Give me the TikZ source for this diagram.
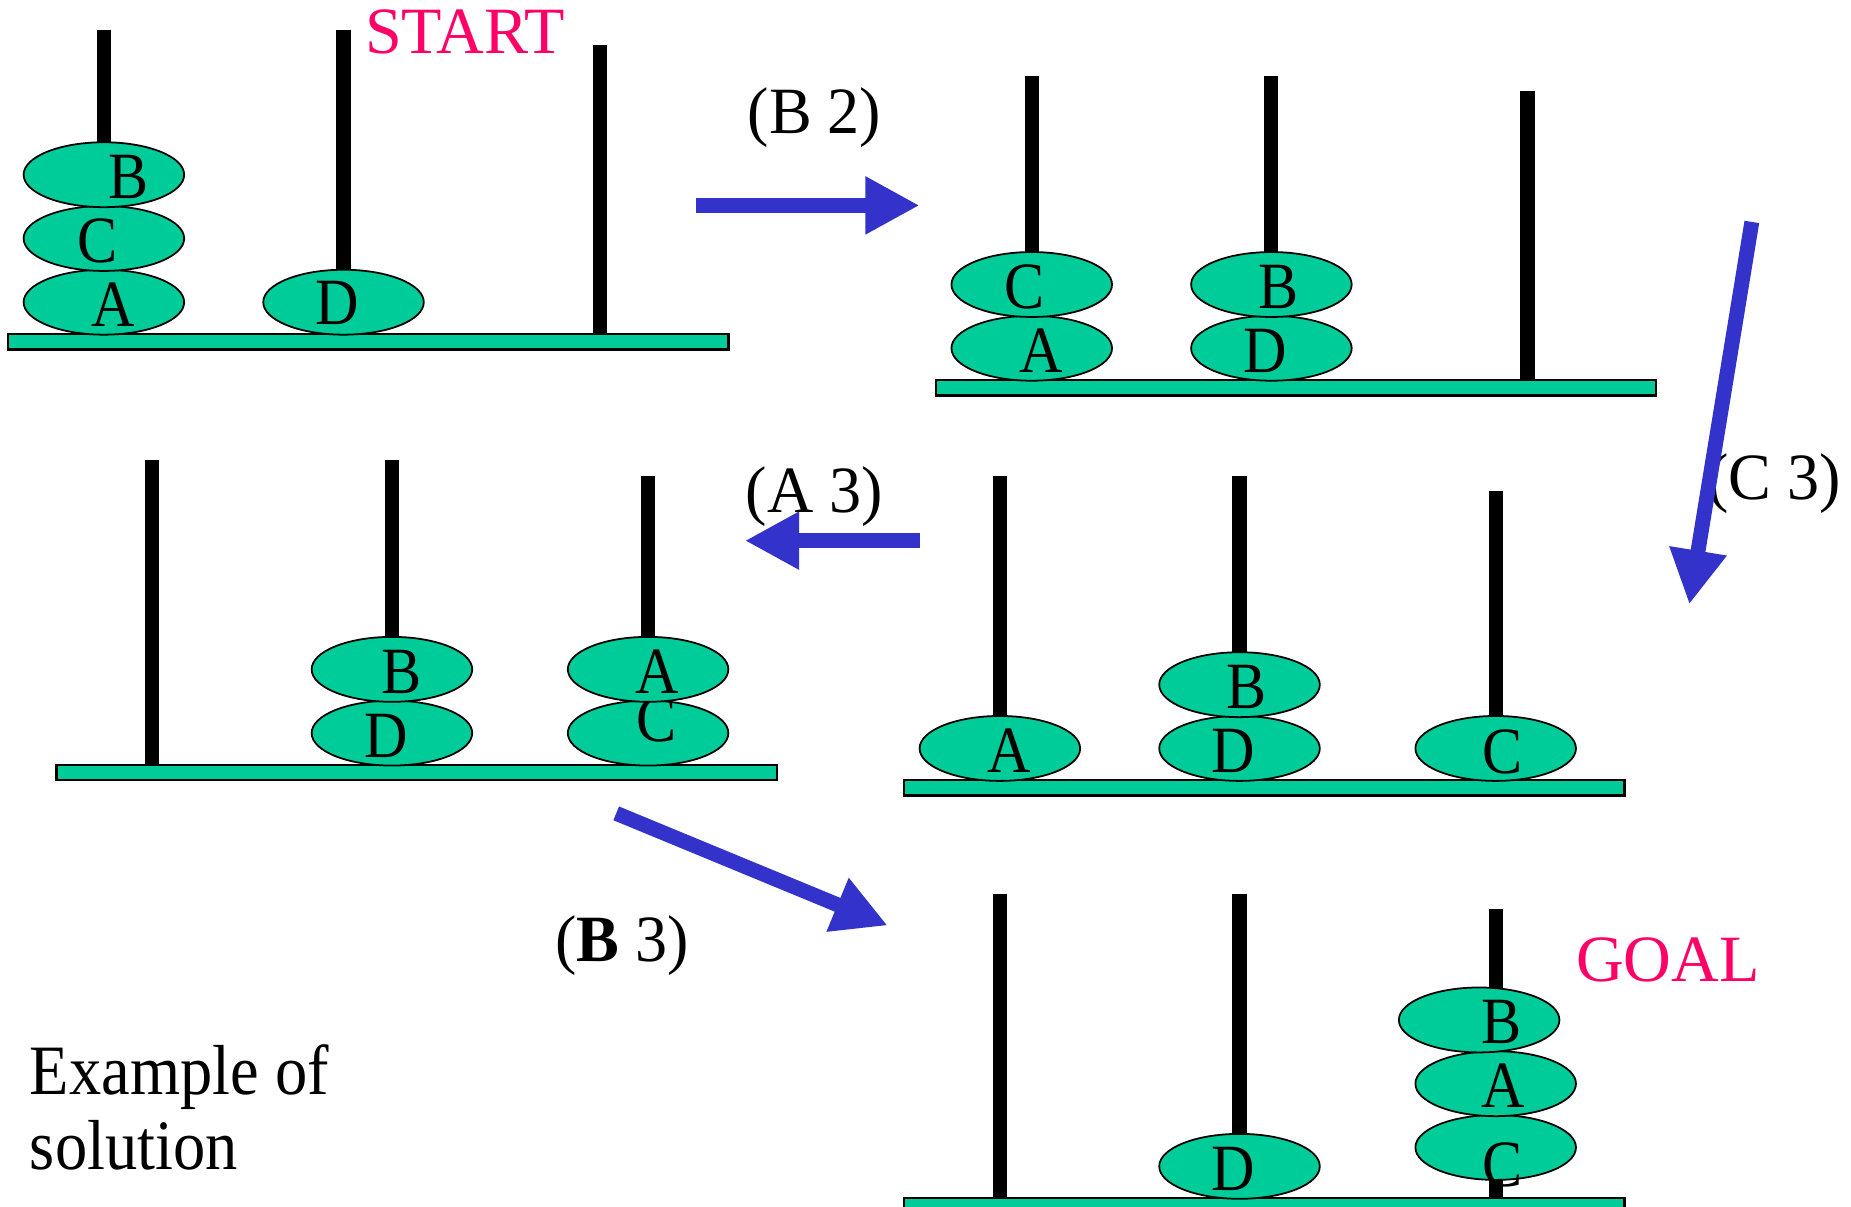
\documentclass[tikz,border=0pt]{standalone}
\usepackage{fontspec}
\setmainfont{Liberation Serif}[FakeStretch=0.91]
\newfontfamily\titlefont{Liberation Serif}
\newfontfamily\labelfont{Liberation Serif}[FakeStretch=0.97]
\usetikzlibrary{shapes.geometric,arrows.meta}
\definecolor{discgreen}{HTML}{00CC99}
\definecolor{arrowblue}{HTML}{3333CC}
\definecolor{startpink}{HTML}{FF0066}
\newcommand\tdisc[6]{%
  \node[disc] (#1) at (#2,#3) {};
  \node[letter] (#1l) at ([shift={(#5,#6)}]#1.center) {#4};}
\newcommand\tpegs{%
  \draw[peg] (81,-258) -- (81,0);
  \draw[peg] (284,-258) -- (284,0);
  \draw[peg] (501,-245) -- (501,0);
  \filldraw[basebar] (0,0) rectangle (610,13);}
\begin{document}
\begin{tikzpicture}[x=0.5pt,y=-0.5pt,
  peg/.style={line width=6pt, draw=black},
  basebar/.style={fill=discgreen, draw=black, line width=1pt},
  disc/.style={ellipse, fill=discgreen, draw=black, line width=0.75pt,
    minimum width=68pt, minimum height=27.5pt, inner sep=0pt},
  letter/.style={font=\fontsize{28}{30}\selectfont, inner sep=0pt},
  lbl/.style={font=\labelfont\fontsize{28}{30}\selectfont, inner sep=0pt},
  bigtext/.style={font=\fontsize{30}{33}\selectfont, inner sep=0pt, anchor=base west},
  blk/.style={draw=arrowblue, line width=6.3pt, -{Triangle[length=23pt,width=23pt]}},
  title/.style={font=\titlefont\fontsize{28}{30}\selectfont, text=startpink, inner sep=0pt}]
\useasboundingbox (0,0) rectangle (1568,1022);
\clip (0,0) rectangle (1568,1022);

% Panel 1 (START)
\begin{scope}[shift={(7,283)}]
  \tpegs
  \tdisc{pa1}{81}{-27}{A}{8}{2}
  \tdisc{pa2}{81}{-81}{C}{-5}{2}
  \tdisc{pa3}{81}{-135}{B}{21}{2}
  \tdisc{pa4}{284}{-27}{D}{-5}{1}
\end{scope}

% Panel 2
\begin{scope}[shift={(793,322)}]
  \tpegs
  \tdisc{pb1}{81}{-27}{A}{8}{2}
  \tdisc{pb2}{81}{-81}{C}{-6}{2}
  \tdisc{pb3}{284}{-27}{D}{-5}{2}
  \tdisc{pb4}{284}{-81}{B}{6}{2}
\end{scope}

% Panel 3
\begin{scope}[shift={(766,661)}]
  \tpegs
  \tdisc{pc1}{81}{-27}{A}{8}{2}
  \tdisc{pc2}{284}{-27}{D}{-5}{2}
  \tdisc{pc3}{284}{-81}{B}{6}{2}
  \tdisc{pc4}{501}{-27}{C}{6}{3}
\end{scope}

% Panel 4
\begin{scope}[shift={(48,648)}]
  \tpegs
  \tdisc{pd1}{284}{-27}{D}{-5}{2}
  \tdisc{pd2}{284}{-81}{B}{8}{2}
  \tdisc{pd3}{501}{-27}{C}{7}{-11}
  \tdisc{pd4}{501}{-81}{A}{8}{2}
\end{scope}

% Panel 5 (GOAL)
\begin{scope}[shift={(766,1015)}]
  \tpegs
  \tdisc{pe1}{284}{-27}{D}{-5}{2}
  \tdisc{pe2}{501}{-43}{C}{6}{15}
  \tdisc{pe3}{501}{-97}{A}{6}{2}
  \tdisc{pe4}{487}{-151}{B}{19}{2}
\end{scope}

% Titles and labels
\node[title] (start) at (394,27) {START};
\node[title] (goal) at (1413,813) {GOAL};
\node[lbl] (mB2) at (690,100) {(B 2)};
\node[lbl] (mA3) at (690,421) {(A 3)};
\node[lbl] (mC3) at (1503,410) {(C 3)};
\node[lbl] (mB3) at (527,801) {(\textbf{B} 3)};
\node[bigtext] (ex1) at (25,927) {Example of};
\node[bigtext] (ex2) at (25,991) {solution};

% Arrows
\coordinate (a1s) at (590,174);
\coordinate (a1e) at (779,174);
\coordinate (a2s) at (1484,188);
\coordinate (a2e) at (1431,512);
\coordinate (a3s) at (779,458);
\coordinate (a3e) at (631,458);
\coordinate (a4s) at (522,689);
\coordinate (a4e) at (752,784);
\draw[blk] (a1s) -- (a1e);
\draw[blk] (a2s) -- (a2e);
\draw[blk] (a3s) -- (a3e);
\draw[blk] (a4s) -- (a4e);
\end{tikzpicture}
\end{document}
